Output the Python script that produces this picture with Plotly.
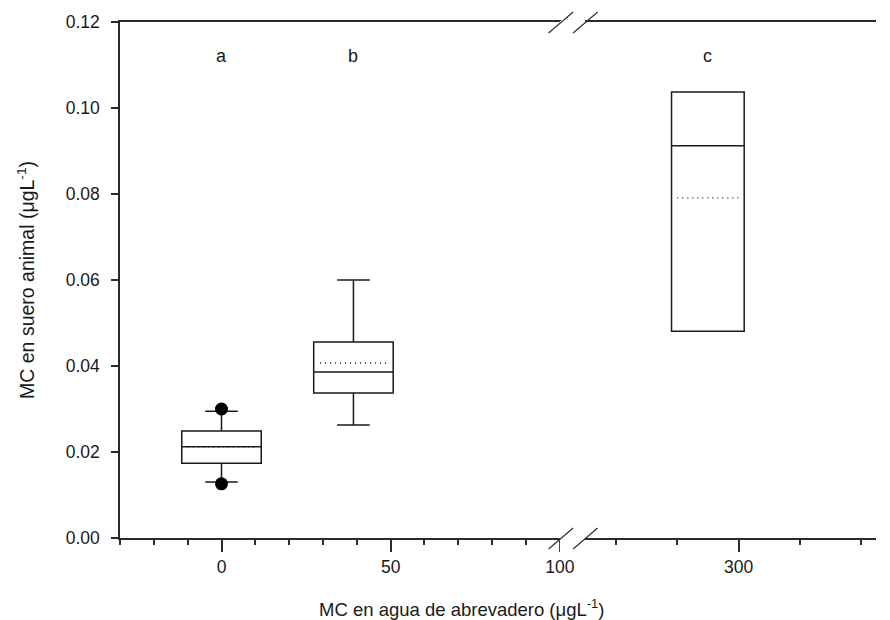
import plotly.graph_objects as go

# ---------------- data ----------------
group_labels = ["a", "b", "c"]
x_pos = [0, 39, 275]              # position of each box on the (broken) x axis
q1 = [0.0174, 0.0337, 0.0481]
median = [0.0212, 0.0386, 0.0912]
q3 = [0.0249, 0.0456, 0.1037]
lower_fence = [0.0130, 0.0263, 0.0481]
upper_fence = [0.0295, 0.0600, 0.1037]
means = [0.0212, 0.0407, 0.0791]
outlier_x = [0, 0]
outlier_y = [0.0300, 0.0126]
letter_y = [0.112, 0.112, 0.112]

x1_ticks = [0, 50, 100]
x2_ticks = [300]
y_ticks = [0.00, 0.02, 0.04, 0.06, 0.08, 0.10, 0.12]

# ---------------- styling / layout constants ----------------
PAGE_OFF = 8                      # browser body margin
W, H = 890 - PAGE_OFF, 620 - PAGE_OFF
PLOT_L, PLOT_T, PLOT_B = 120, 22, 538   # target window pixels of the plot area
ML = PLOT_L - PAGE_OFF
MT = PLOT_T - PAGE_OFF
MR = 0
PW = W - ML - MR
PH = PLOT_B - PLOT_T
MB = H - MT - PH
BREAK_L, BREAK_R = 569, 594       # window pixel x of the two break slashes
SEG2_PX_PER_UNIT = 1.25
REF300_PX = 750
dom1 = [0, (BREAK_L - PLOT_L) / PW]
dom2 = [(BREAK_R - PLOT_L) / PW, 1]
x2_range = [300 - (REF300_PX - BREAK_R) / SEG2_PX_PER_UNIT,
            300 + (PLOT_L + PW - REF300_PX) / SEG2_PX_PER_UNIT]
w_box1 = 23.5
w_box2 = 59.2
FONT = "Liberation Sans, Arial, sans-serif"
INK = "#1a1a1a"
AX = "#2a2a2a"
TICK_SIZE = 17.5

fig = go.Figure()

box_line = dict(color=INK, width=1.5)
fig.add_trace(go.Box(
    x=x_pos[:2], q1=q1[:2], median=median[:2], q3=q3[:2],
    lowerfence=lower_fence[:2], upperfence=upper_fence[:2],
    width=w_box1, whiskerwidth=0.41, line=box_line, fillcolor="white",
    boxpoints=False, xaxis="x", yaxis="y", showlegend=False, hoverinfo="skip"))
fig.add_trace(go.Box(
    x=x_pos[2:], q1=q1[2:], median=median[2:], q3=q3[2:],
    lowerfence=lower_fence[2:], upperfence=upper_fence[2:],
    width=w_box2, whiskerwidth=0.41, line=box_line, fillcolor="white",
    boxpoints=False, xaxis="x2", yaxis="y", showlegend=False, hoverinfo="skip"))

# mean lines (dotted)
for i in range(3):
    w = w_box1 if i < 2 else w_box2
    fig.add_trace(go.Scatter(
        x=[x_pos[i] - w * 0.42, x_pos[i] + w * 0.42], y=[means[i], means[i]],
        mode="lines", line=dict(color=INK, width=1.4, dash="1px,4px"),
        xaxis="x" if i < 2 else "x2", yaxis="y", showlegend=False, hoverinfo="skip"))

# outliers
fig.add_trace(go.Scatter(
    x=outlier_x, y=outlier_y, mode="markers",
    marker=dict(color="black", size=13), xaxis="x", yaxis="y",
    showlegend=False, hoverinfo="skip"))

# group letters
for i, lab in enumerate(group_labels):
    fig.add_annotation(x=x_pos[i], y=letter_y[i], text=lab, showarrow=False,
                       xref="x" if i < 2 else "x2", yref="y",
                       font=dict(size=18, color=INK, family=FONT))

common_x = dict(showline=True, linecolor=AX, linewidth=1.5, mirror=True,
                showgrid=False, zeroline=False, ticks="outside", ticklen=12,
                tickwidth=1.5, tickcolor=AX, ticklabelstandoff=0,
                tickfont=dict(size=TICK_SIZE, color=INK, family=FONT))

fig.update_layout(
    width=W, height=H, autosize=False,
    margin=dict(l=ML, r=MR, t=MT, b=MB),
    plot_bgcolor="white", paper_bgcolor="white",
    boxmode="overlay",
    xaxis=dict(domain=dom1, range=[-30, 100.3], tickvals=x1_ticks,
               ticktext=[str(v) for v in x1_ticks], anchor="y",
               minor=dict(dtick=10, tick0=0, ticks="outside", ticklen=5,
                          tickwidth=1.5, tickcolor=AX, showgrid=False),
               **common_x),
    xaxis2=dict(domain=dom2, range=x2_range, tickvals=x2_ticks,
                ticktext=[str(v) for v in x2_ticks], anchor="y",
                minor=dict(dtick=50, tick0=0, ticks="outside", ticklen=5,
                           tickwidth=1.5, tickcolor=AX, showgrid=False),
                **common_x),
    yaxis=dict(range=[0, 0.12], tickvals=y_ticks,
               ticktext=[f"{v:.2f}" for v in y_ticks],
               showline=True, linecolor=AX, linewidth=1.5, mirror=False,
               showgrid=False, zeroline=False, ticks="outside", ticklen=7,
               tickwidth=1.5, tickcolor=AX, ticklabelstandoff=8,
               tickfont=dict(size=TICK_SIZE, color=INK, family=FONT),
               title=dict(text="MC en suero animal (μgL<sup>-1</sup>)",
                          font=dict(size=19.5, color=INK, family=FONT), standoff=26)),
)

# x axis title
fig.add_annotation(x=(468 - PLOT_L) / PW, y=-(608 - PLOT_B) / PH, xref="paper", yref="paper",
                   text="MC en agua de abrevadero (μgL<sup>-1</sup>)", showarrow=False,
                   xanchor="center", yanchor="middle",
                   font=dict(size=18.5, color=INK, family=FONT))

# axis break marks (decoration)
def px2paper_x(px):
    return (px - PLOT_L) / PW

for y_edge in (0, 1):
    fig.add_shape(type="rect", xref="paper", yref="paper",
                  x0=px2paper_x(BREAK_L - 1), x1=px2paper_x(BREAK_L + 6),
                  y0=y_edge - 14 / PH if y_edge == 0 else y_edge - 1 / PH,
                  y1=y_edge + 1 / PH,
                  fillcolor="white", line=dict(width=0), layer="above")
    for bx in (BREAK_L, BREAK_R):
        fig.add_shape(type="line", xref="paper", yref="paper",
                      x0=px2paper_x(bx - 12.5), x1=px2paper_x(bx + 12.5),
                      y0=y_edge - 11 / PH, y1=y_edge + 10 / PH,
                      line=dict(color=AX, width=1.1), layer="above")

fig.write_html("out.html")
